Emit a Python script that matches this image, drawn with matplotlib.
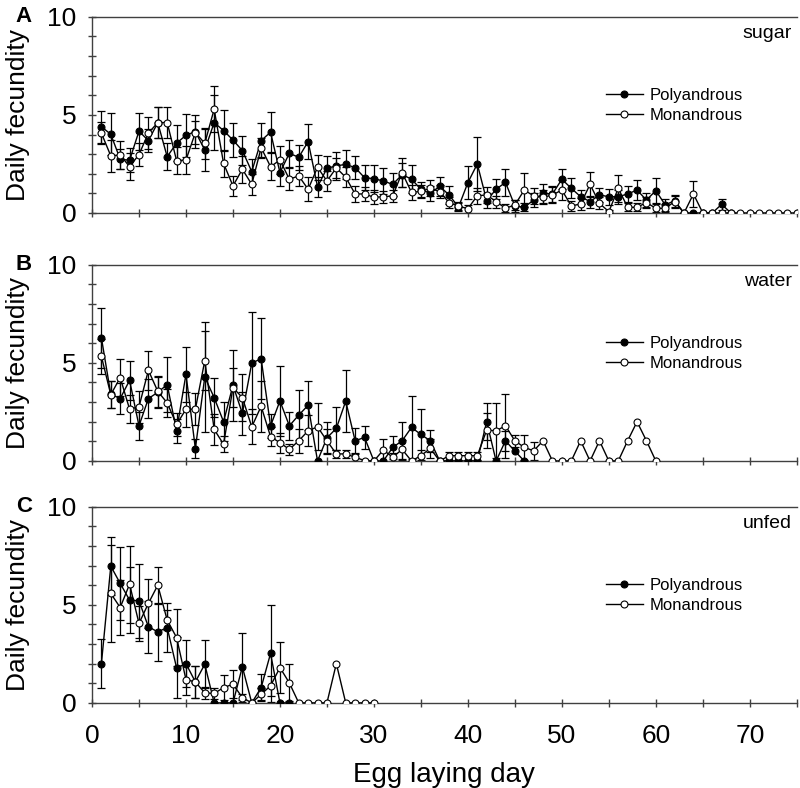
import numpy as np
import matplotlib
matplotlib.use("Agg")
import matplotlib.pyplot as plt
from matplotlib.ticker import MultipleLocator

plt.rcParams['font.family'] = ['Liberation Sans', 'DejaVu Sans']

# ---- panel A : sugar ----
a_poly_day = list(range(1, 69))
a_poly = [4.40, 4.01, 2.74, 2.69, 4.17, 3.69, 4.60, 2.87, 3.56, 3.96,
          4.15, 3.21, 4.61, 4.20, 3.72, 3.18, 2.11, 3.69, 4.12, 2.06,
          3.04, 2.84, 3.64, 1.34, 2.28, 2.40, 2.48, 2.31, 1.80, 1.75,
          1.63, 1.46, 1.95, 1.73, 1.20, 1.00, 1.36, 0.92, 0.30, 1.55,
          2.50, 0.63, 1.21, 1.56, 0.36, 0.29, 0.66, 1.00, 0.97, 1.72,
          1.26, 0.83, 0.58, 0.92, 0.83, 0.83, 0.97, 1.17, 0.66, 1.14,
          0.41, 0.63, 0.00, 0.00, 0.00, 0.00, 0.44, 0.00]
a_poly_se = [0.82, 1.07, 0.50, 0.60, 0.95, 0.60, 0.80, 0.70, 0.90, 1.10,
             0.85, 1.05, 1.40, 1.05, 0.88, 0.75, 0.63, 0.88, 1.02, 0.70,
             0.70, 0.63, 0.88, 0.50, 0.60, 0.70, 0.73, 0.60, 0.65, 0.70,
             0.65, 0.60, 0.60, 0.70, 0.40, 0.40, 0.50, 0.45, 0.20, 0.85,
             1.36, 0.40, 0.50, 0.70, 0.30, 0.20, 0.35, 0.50, 0.40, 0.51,
             0.50, 0.35, 0.30, 0.35, 0.40, 0.35, 0.40, 0.50, 0.35, 0.63,
             0.30, 0.30, 0.00, 0.00, 0.00, 0.00, 0.27, 0.00]
a_mono_day = list(range(1, 76))
a_mono = [4.07, 2.91, 2.96, 2.36, 2.98, 4.07, 4.61, 4.61, 2.67, 2.70,
          4.10, 3.55, 5.29, 2.53, 1.38, 2.23, 1.46, 3.33, 2.36, 2.70,
          1.72, 1.89, 1.21, 2.33, 1.63, 2.30, 1.82, 0.97, 0.97, 0.80,
          0.83, 0.87, 2.06, 1.05, 1.10, 1.26, 1.09, 0.53, 0.35, 0.22,
          0.88, 0.92, 0.58, 0.24, 0.41, 1.17, 0.87, 0.80, 0.92, 1.17,
          0.36, 0.46, 1.46, 0.49, 0.07, 1.26, 0.29, 0.29, 0.53, 0.24,
          0.24, 0.58, 0.00, 0.97, 0.00, 0.00, 0.00, 0.00, 0.00, 0.00,
          0.00, 0.00, 0.00, 0.00, 0.00]
a_mono_se = [0.55, 0.80, 0.70, 0.70, 0.60, 0.80, 0.77, 0.77, 0.70, 0.70,
             0.60, 0.80, 1.16, 0.70, 0.50, 0.70, 0.55, 0.50, 0.70, 0.70,
             0.55, 0.50, 0.60, 0.65, 0.50, 0.50, 0.50, 0.40, 0.35, 0.35,
             0.30, 0.30, 0.73, 0.40, 0.35, 0.40, 0.35, 0.30, 0.20, 0.20,
             0.40, 0.40, 0.30, 0.20, 0.25, 0.85, 0.40, 0.35, 0.40, 0.50,
             0.25, 0.30, 0.65, 0.30, 0.10, 0.68, 0.20, 0.20, 0.30, 0.20,
             0.20, 0.30, 0.00, 0.66, 0.00, 0.00, 0.00, 0.00, 0.00, 0.00,
             0.00, 0.00, 0.00, 0.00, 0.00]

# ---- panel B : water ----
b_poly_day = list(range(1, 47))
b_poly = [6.28, 3.40, 3.18, 4.11, 1.79, 3.18, 3.50, 3.89, 1.54, 4.42,
          0.63, 4.28, 3.23, 2.00, 3.86, 2.42, 4.99, 5.21, 1.79, 3.06,
          1.79, 2.34, 2.84, 0.00, 1.18, 1.66, 3.05, 1.03, 1.20, 0.00,
          0.00, 0.69, 1.03, 1.71, 1.35, 1.03, 0.00, 0.00, 0.00, 0.00,
          0.00, 2.00, 0.00, 1.03, 0.50, 0.00]
b_poly_se = [1.52, 0.70, 0.80, 1.00, 0.70, 1.00, 0.80, 1.40, 0.60, 1.40,
             0.50, 2.80, 1.00, 1.00, 1.80, 1.10, 2.60, 2.06, 0.60, 1.80,
             0.70, 1.27, 1.24, 0.00, 0.80, 1.10, 1.57, 0.65, 0.60, 0.00,
             0.00, 0.60, 0.97, 1.60, 1.30, 0.55, 0.00, 0.00, 0.00, 0.00,
             0.00, 0.93, 0.00, 0.50, 0.00, 0.00]
b_mono_day = list(range(1, 61))
b_mono = [5.33, 3.38, 4.25, 2.64, 2.76, 4.62, 3.55, 2.96, 1.86, 2.64,
          2.64, 5.11, 1.61, 0.85, 3.74, 3.23, 1.74, 2.79, 1.24, 0.93,
          0.59, 1.03, 1.54, 1.74, 1.03, 0.36, 0.36, 0.19, 0.02, 0.00,
          0.56, 0.19, 0.59, 0.00, 0.27, 0.64, 0.00, 0.27, 0.27, 0.27,
          0.27, 1.57, 1.54, 1.79, 1.03, 0.69, 0.52, 1.03, 0.00, 0.00,
          0.00, 1.03, 0.00, 1.03, 0.00, 0.00, 1.03, 2.00, 1.03, 0.00]
b_mono_se = [0.90, 0.70, 0.93, 0.70, 0.80, 0.98, 0.80, 0.70, 0.60, 0.90,
             0.80, 1.50, 0.80, 0.40, 1.00, 1.20, 0.90, 1.30, 0.50, 0.50,
             0.30, 0.60, 0.80, 1.20, 0.60, 0.20, 0.20, 0.20, 0.00, 0.00,
             0.56, 0.20, 0.50, 0.00, 0.30, 0.50, 0.00, 0.20, 0.20, 0.20,
             0.20, 0.90, 1.40, 1.64, 0.30, 0.63, 0.46, 0.00, 0.00, 0.00,
             0.00, 0.00, 0.00, 0.00, 0.00, 0.00, 0.00, 0.00, 0.00, 0.00]

# ---- panel C : unfed ----
c_poly_day = list(range(1, 22))
c_poly = [2.00, 6.97, 6.09, 5.24, 5.20, 3.88, 3.62, 3.84, 1.79, 2.00,
          1.07, 1.97, 0.00, 0.00, 0.00, 1.84, 0.00, 0.78, 2.52, 0.00, 0.00]
c_poly_se = [1.26, 1.46, 1.87, 1.70, 1.88, 1.33, 1.48, 1.24, 1.55, 1.19,
             0.80, 1.22, 0.00, 0.00, 0.00, 1.70, 0.00, 0.68, 2.47, 0.00, 0.00]
c_mono_day = list(range(2, 31))
c_mono = [5.58, 4.86, 6.05, 4.05, 5.07, 6.00, 4.22, 3.33, 1.19, 1.07,
          0.51, 0.48, 0.78, 0.95, 0.27, 0.00, 0.44, 0.87, 1.80, 1.02,
          0.00, 0.00, 0.00, 0.00, 2.00, 0.00, 0.00, 0.00, 0.00]
c_mono_se = [2.47, 1.40, 1.96, 0.90, 1.24, 0.94, 0.50, 1.43, 0.80, 0.80,
             0.30, 0.30, 0.63, 0.71, 0.20, 0.00, 0.30, 0.50, 1.31, 0.94,
             0.00, 0.00, 0.00, 0.00, 0.00, 0.00, 0.00, 0.00, 0.00]

panels = [
    ("A", "sugar", a_poly_day, a_poly, a_poly_se, a_mono_day, a_mono, a_mono_se),
    ("B", "water", b_poly_day, b_poly, b_poly_se, b_mono_day, b_mono, b_mono_se),
    ("C", "unfed", c_poly_day, c_poly, c_poly_se, c_mono_day, c_mono, c_mono_se),
]

fig = plt.figure(figsize=(8, 7.88), dpi=100)
bottoms = [0.7297, 0.415, 0.108]
axcol = '#404040'

for i, (letter, food, pd_, pv, pe, md, mv, me) in enumerate(panels):
    ax = fig.add_axes([0.115, bottoms[i], 0.881, 0.249])

    # error bars only where there is a spread
    for d, v, e in [(pd_, pv, pe), (md, mv, me)]:
        d = np.array(d); v = np.array(v); e = np.array(e)
        keep = e > 0
        ax.errorbar(d[keep], v[keep], yerr=e[keep], fmt='none', ecolor='black',
                    elinewidth=0.9, capsize=3, capthick=0.9, zorder=2)

    ax.plot(pd_, pv, '-o', color='black', lw=1, ms=5, mfc='black', mec='black',
            mew=0.8, label='Polyandrous', zorder=3)
    ax.plot(md, mv, '-o', color='black', lw=1, ms=5, mfc='white', mec='black',
            mew=0.8, label='Monandrous', zorder=4)

    ax.set_xlim(0, 75)
    ax.set_ylim(0, 10)
    ax.spines['right'].set_visible(False)
    for s in ['left', 'bottom', 'top']:
        ax.spines[s].set_color(axcol)
        ax.spines[s].set_linewidth(1.0)
    ax.yaxis.set_major_locator(MultipleLocator(5))
    ax.yaxis.set_minor_locator(MultipleLocator(1))
    ax.xaxis.set_major_locator(MultipleLocator(10))
    ax.xaxis.set_minor_locator(MultipleLocator(5))
    ax.tick_params(which='both', direction='inout', length=6, width=1, color=axcol,
                   labelsize=19, pad=8)
    ax.tick_params(axis='x', which='both', pad=12)
    if i < 2:
        ax.tick_params(axis='x', labelbottom=False)
    else:
        ax.set_xlabel('Egg laying day', fontsize=20, labelpad=10)

    ax.set_ylabel('Daily fecundity', fontsize=19)
    ax.yaxis.set_label_coords(-0.088, 0.5)

    ax.text(0.993, 0.915, food, transform=ax.transAxes, ha='right', va='center',
            fontsize=14)
    fig.text(0.03, bottoms[i] + 0.249, letter, ha='center', va='center',
             fontsize=16, fontweight='bold')
    ax.legend(loc='upper left', bbox_to_anchor=(0.72, 0.67), frameon=False,
              fontsize=12, handlelength=2.2, handletextpad=0.4,
              borderaxespad=0, labelspacing=0.3)

fig.savefig('out.png', dpi=100)
